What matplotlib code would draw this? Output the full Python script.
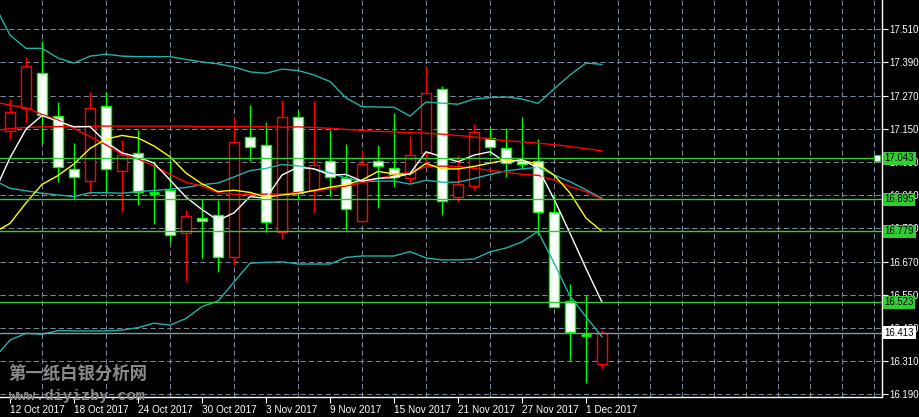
import numpy as np
import pandas as pd
import matplotlib
matplotlib.use('Agg')
import matplotlib.pyplot as plt
import matplotlib.transforms as mtransforms
from matplotlib.patches import Rectangle

plt.rcParams['font.family'] = ['Liberation Sans', 'DejaVu Sans']

# daily bars, 12 Oct 2017 - 4 Dec 2017
dates = pd.to_datetime([
    '2017-10-12', '2017-10-13', '2017-10-16', '2017-10-17', '2017-10-18', '2017-10-19',
    '2017-10-20', '2017-10-23', '2017-10-24', '2017-10-25', '2017-10-26', '2017-10-27',
    '2017-10-30', '2017-10-31', '2017-11-01', '2017-11-02', '2017-11-03', '2017-11-06',
    '2017-11-07', '2017-11-08', '2017-11-09', '2017-11-10', '2017-11-13', '2017-11-14',
    '2017-11-15', '2017-11-16', '2017-11-17', '2017-11-20', '2017-11-21', '2017-11-22',
    '2017-11-23', '2017-11-24', '2017-11-27', '2017-11-28', '2017-11-29', '2017-11-30',
    '2017-12-01', '2017-12-04'])

opens = [17.141, 17.224, 17.351, 17.195, 17.004, 16.960, 17.231, 16.996, 17.062, 16.917,
         16.929, 16.773, 16.826, 16.838, 16.685, 17.119, 17.090, 16.776, 17.192, 16.929,
         17.032, 16.971, 16.817, 17.033, 17.007, 16.971, 17.064, 17.293, 16.902, 16.942,
         17.118, 17.080, 17.033, 17.033, 16.848, 16.529, 16.404, 16.298]
highs = [17.258, 17.409, 17.467, 17.246, 17.100, 17.283, 17.282, 17.110, 17.144, 17.033,
         17.035, 16.856, 16.896, 16.893, 17.192, 17.236, 17.174, 17.254, 17.218, 17.251,
         17.145, 17.095, 17.069, 17.091, 17.207, 17.124, 17.377, 17.305, 17.055, 17.167,
         17.155, 17.152, 17.194, 17.112, 16.911, 16.589, 16.549, 16.424]
lows = [17.110, 17.172, 17.097, 16.959, 16.898, 16.910, 16.920, 16.850, 16.876, 16.805,
        16.741, 16.598, 16.682, 16.633, 16.659, 17.034, 16.778, 16.751, 16.896, 16.846,
        16.907, 16.785, 16.815, 16.863, 16.941, 16.953, 17.016, 16.837, 16.886, 16.930,
        17.055, 16.974, 17.004, 16.766, 16.505, 16.310, 16.231, 16.280]
closes = [17.210, 17.376, 17.200, 17.011, 16.975, 17.224, 17.004, 17.055, 16.920, 16.917,
          16.766, 16.833, 16.818, 16.688, 17.101, 17.085, 16.812, 17.192, 16.919, 17.019,
          16.975, 16.859, 17.022, 17.014, 16.977, 17.055, 17.279, 16.889, 16.949, 17.137,
          17.083, 17.025, 17.022, 16.848, 16.507, 16.414, 16.404, 16.413]

# indicator lines, first value belongs to the bar just left of the window
bb_upper = [17.602, 17.489, 17.441, 17.441, 17.406, 17.388, 17.413, 17.420, 17.413, 17.411,
            17.411, 17.411, 17.401, 17.392, 17.385, 17.374, 17.356, 17.351, 17.366, 17.361,
            17.345, 17.321, 17.262, 17.230, 17.229, 17.228, 17.196, 17.247, 17.243, 17.239,
            17.258, 17.263, 17.265, 17.258, 17.242, 17.294, 17.345, 17.388, 17.383]
bb_middle = [16.964, 16.935, 16.926, 16.917, 16.911, 16.905, 16.919, 16.919, 16.917, 16.923,
             16.927, 16.932, 16.938, 16.948, 16.954, 16.976, 16.999, 17.007, 17.021, 17.016,
             17.005, 16.991, 16.972, 16.959, 16.961, 16.961, 16.950, 16.964, 16.957, 16.957,
             16.970, 16.985, 16.998, 17.005, 17.011, 16.983, 16.959, 16.929, 16.899]
bb_lower = [16.319, 16.386, 16.410, 16.407, 16.420, 16.419, 16.419, 16.419, 16.422, 16.431,
            16.447, 16.440, 16.464, 16.507, 16.527, 16.596, 16.664, 16.667, 16.669, 16.661,
            16.661, 16.661, 16.685, 16.690, 16.690, 16.690, 16.706, 16.683, 16.676, 16.676,
            16.679, 16.705, 16.719, 16.741, 16.779, 16.665, 16.545, 16.470, 16.398]
ma_slow = [17.144, 17.151, 17.155, 17.157, 17.158, 17.159, 17.159, 17.160, 17.160, 17.160,
           17.160, 17.160, 17.160, 17.158, 17.158, 17.159, 17.159, 17.158, 17.156, 17.157,
           17.155, 17.152, 17.148, 17.144, 17.141, 17.139, 17.136, 17.134, 17.131, 17.126,
           17.121, 17.113, 17.107, 17.103, 17.098, 17.093, 17.086, 17.078, 17.070]
ma_red = [17.247, 17.236, 17.226, 17.202, 17.182, 17.151, 17.122, 17.092, 17.057, 17.041,
          17.016, 16.985, 16.957, 16.943, 16.919, 16.913, 16.913, 16.914, 16.914, 16.920,
          16.925, 16.933, 16.943, 16.955, 16.970, 16.984, 16.994, 17.013, 17.015, 17.014,
          17.007, 17.000, 16.994, 16.985, 16.982, 16.965, 16.941, 16.923, 16.895]
ma_yellow = [16.775, 16.808, 16.882, 16.949, 16.981, 17.023, 17.079, 17.113, 17.126, 17.117,
             17.088, 17.049, 16.990, 16.951, 16.923, 16.928, 16.920, 16.903, 16.911, 16.916,
             16.927, 16.939, 16.948, 16.965, 16.996, 16.987, 16.985, 17.025, 17.005, 17.005,
             17.014, 17.026, 17.037, 17.035, 17.023, 16.983, 16.918, 16.827, 16.779]
ma_white = [16.918, 17.045, 17.149, 17.198, 17.177, 17.157, 17.158, 17.102, 17.063, 17.048,
            17.026, 16.965, 16.903, 16.858, 16.819, 16.846, 16.905, 16.899, 16.983, 17.011,
            17.005, 16.983, 16.985, 16.961, 16.971, 16.974, 16.988, 17.067, 17.049, 17.031,
            17.055, 17.067, 17.028, 17.039, 17.008, 16.896, 16.772, 16.645, 16.523]

level_prices = [17.043, 16.895, 16.779, 16.523]
bid_price = 16.413
price_ticks = [16.190, 16.310, 16.430, 16.550, 16.670, 16.790, 16.910, 17.030,
               17.150, 17.270, 17.390, 17.510]

GREEN = '#00ff00'
LEVEL_GREEN = '#32cd32'
GRID = '#7a8899'
CYAN = '#20b2aa'

fig = plt.figure(figsize=(9.19, 4.17), dpi=100, facecolor='black')
ax = fig.add_axes([0, 20 / 417, 882 / 919, 397 / 417])
ax.set_facecolor('black')

n = len(closes)
x = np.arange(n)
xl = np.arange(-1, n)

# grid
ax.set_xticks(np.arange(0, 55, 2), minor=True)
ax.set_yticks(price_ticks)
ax.grid(True, which='minor', axis='x', color=GRID, ls=(0, (5, 3)), lw=0.75)
ax.grid(True, which='major', axis='y', color=GRID, ls=(0, (5, 3)), lw=0.75)
ax.set_axisbelow(True)

# candles
body_w = 0.6
for i in x:
    o, h, l, c = opens[i], highs[i], lows[i], closes[i]
    up = c > o
    col = 'red' if up else GREEN
    ax.vlines(i, l, h, color=col, lw=1, zorder=2)
    if abs(c - o) < 0.0005:
        ax.hlines(o, i - body_w / 2, i + body_w / 2, color=GREEN, lw=2, zorder=3)
    else:
        ax.add_patch(Rectangle((i - body_w / 2, min(o, c)), body_w, abs(c - o),
                               facecolor='black' if up else 'white',
                               edgecolor=col, lw=1, zorder=3))

# indicators
ax.plot(xl, bb_upper, color=CYAN, lw=1, zorder=4)
ax.plot(xl, bb_middle, color=CYAN, lw=1, zorder=4)
ax.plot(xl, bb_lower, color=CYAN, lw=1, zorder=4)
ax.plot(xl, ma_slow, color='red', lw=1, zorder=4)
ax.plot(xl, ma_red, color='red', lw=1, zorder=4)
ax.plot(xl, ma_yellow, color='yellow', lw=1, zorder=5)
ax.plot(xl, ma_white, color='white', lw=1, zorder=6)

# horizontal levels
for p in level_prices:
    ax.axhline(p, color=LEVEL_GREEN, lw=1, zorder=7)
ax.axhline(bid_price, color='#8796a8', lw=1, zorder=7)
ax.plot([54.2], [level_prices[0]], marker='s', ms=4, mfc='white', mec=LEVEL_GREEN,
        mew=0.8, zorder=8, clip_on=False)

ax.set_xlim(-0.625, 54.5)
ax.set_ylim(16.180, 17.616)

# axes styling
for s in ['top', 'left']:
    ax.spines[s].set_visible(False)
for s in ['bottom', 'right']:
    ax.spines[s].set_color('white')
    ax.spines[s].set_linewidth(1)

ax.yaxis.tick_right()
ax.set_yticklabels([f'{p:.3f}' for p in price_ticks])
ax.tick_params(axis='y', colors='white', labelsize=6.9, length=4, width=0.8, pad=1.5)

label_idx = list(range(0, n, 4))
ax.set_xticks(label_idx)
ax.set_xticklabels([f'{dates[i].day} {dates[i].strftime("%b %Y")}' for i in label_idx])
for lab in ax.get_xticklabels():
    lab.set_horizontalalignment('left')
ax.tick_params(axis='x', which='major', colors='white', labelsize=7.2, length=4,
               width=0.8, pad=2)
ax.tick_params(axis='x', which='minor', length=0)

# price boxes on the right scale
trans = mtransforms.blended_transform_factory(ax.transAxes, ax.transData)
for p in level_prices:
    ax.text(1.003, p, f'{p:.3f}', transform=trans, ha='left', va='center', fontsize=6.9,
            color='black', clip_on=False, zorder=10,
            bbox=dict(boxstyle='square,pad=0.15', fc=LEVEL_GREEN, ec='none'))
ax.text(1.003, bid_price, f'{bid_price:.3f}', transform=trans, ha='left', va='center',
        fontsize=6.9, color='black', clip_on=False, zorder=10,
        bbox=dict(boxstyle='square,pad=0.15', fc='white', ec='none'))

# watermark
fig.text(8 / 919, 1 - 374 / 417, '第一纸白银分析网', fontsize=12.5, color='#8a8a8a',
         family=['Noto Sans CJK SC', 'DejaVu Sans'], weight='bold', va='center', ha='left')
fig.text(9 / 919, 1 - 396 / 417, 'www.diyizby.com', fontsize=11, color='#8a8a8a',
         family=['Liberation Mono', 'DejaVu Sans Mono'], weight='bold', va='center', ha='left')

fig.savefig('out.png', dpi=100, facecolor='black')
